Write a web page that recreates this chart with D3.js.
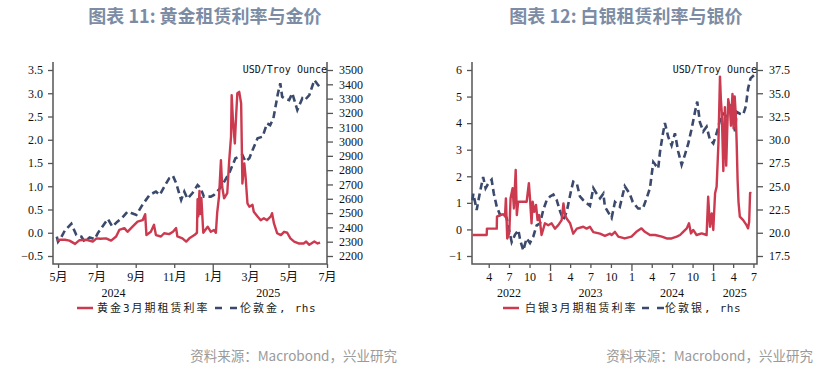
<!DOCTYPE html>
<html><head><meta charset="utf-8">
<script src="https://cdn.jsdelivr.net/npm/d3@7"></script>
<style>body{margin:0;background:#fff}svg{display:block}</style>
</head><body><svg id="c" width="838" height="369"></svg>
<script>
// ---------- Gold (图表 11) ----------
const goldLeaseDates = ["2024-04-29","2024-05-05","2024-05-12","2024-05-19","2024-05-28","2024-06-04","2024-06-15","2024-06-25","2024-07-01","2024-07-07","2024-07-16","2024-07-24","2024-08-01","2024-08-06","2024-08-14","2024-08-19","2024-08-27","2024-09-04","2024-09-12","2024-09-16","2024-09-18","2024-09-25","2024-09-30","2024-10-03","2024-10-11","2024-10-16","2024-10-24","2024-10-30","2024-11-04","2024-11-06","2024-11-14","2024-11-20","2024-11-25","2024-12-03","2024-12-07","2024-12-08","2024-12-09","2024-12-11","2024-12-12","2024-12-14","2024-12-17","2024-12-24","2024-12-29","2025-01-03","2025-01-06","2025-01-08","2025-01-11","2025-01-14","2025-01-16","2025-01-19","2025-01-24","2025-01-27","2025-01-30","2025-01-31","2025-02-02","2025-02-05","2025-02-07","2025-02-09","2025-02-12","2025-02-15","2025-02-17","2025-02-20","2025-02-22","2025-02-25","2025-02-28","2025-03-05","2025-03-07","2025-03-13","2025-03-18","2025-03-23","2025-03-28","2025-04-03","2025-04-05","2025-04-08","2025-04-13","2025-04-19","2025-04-24","2025-04-29","2025-05-04","2025-05-10","2025-05-17","2025-05-25","2025-05-29","2025-06-03","2025-06-11","2025-06-16","2025-06-20"];
const goldLeaseValues = [-0.16,-0.15,-0.15,-0.17,-0.24,-0.16,-0.15,-0.19,-0.12,-0.13,-0.12,-0.17,-0.08,0.06,0.10,0.02,0.13,0.24,0.27,0.40,-0.05,0.02,0.17,-0.05,-0.08,-0.01,-0.03,0.02,0.10,-0.08,-0.12,-0.19,-0.12,-0.05,0.0,0.72,0.35,0.90,0.40,0.75,0.0,0.13,0.02,0.06,0.0,0.42,0.78,1.56,0.99,0.74,0.85,1.53,2.07,2.96,2.42,1.92,2.5,3.0,3.03,2.78,1.06,1.49,1.21,0.63,0.56,0.60,0.45,0.35,0.27,0.31,0.27,0.35,0.42,0.20,-0.01,-0.05,0.02,0.0,-0.12,-0.19,-0.23,-0.23,-0.19,-0.26,-0.19,-0.23,-0.21];
const goldPriceDates = ["2024-04-29","2024-05-01","2024-05-06","2024-05-12","2024-05-22","2024-05-30","2024-06-07","2024-06-12","2024-06-20","2024-06-28","2024-07-03","2024-07-11","2024-07-19","2024-07-26","2024-08-03","2024-08-11","2024-08-19","2024-08-25","2024-09-02","2024-09-12","2024-09-23","2024-10-03","2024-10-09","2024-10-17","2024-10-24","2024-10-30","2024-11-04","2024-11-12","2024-11-17","2024-11-22","2024-11-30","2024-12-08","2024-12-13","2024-12-18","2024-12-29","2025-01-03","2025-01-10","2025-01-16","2025-01-27","2025-02-06","2025-02-17","2025-02-22","2025-02-28","2025-03-06","2025-03-13","2025-03-21","2025-03-28","2025-04-02","2025-04-07","2025-04-14","2025-04-18","2025-04-21","2025-04-25","2025-05-02","2025-05-07","2025-05-15","2025-05-23","2025-05-27","2025-06-03","2025-06-11","2025-06-16","2025-06-21"];
const goldPriceValues = [2335,2300,2330,2380,2425,2347,2335,2300,2330,2318,2360,2410,2459,2405,2440,2470,2510,2500,2487,2560,2627,2650,2627,2690,2743,2760,2710,2592,2650,2600,2640,2696,2673,2615,2615,2627,2660,2696,2778,2883,2906,2860,2883,2950,3023,3034,3127,3115,3160,3330,3407,3313,3300,3290,3337,3220,3302,3290,3325,3430,3400,3372];
const goldMonthTicks = ["2024-05-01","2024-07-01","2024-09-01","2024-11-01","2025-01-01","2025-03-01","2025-05-01","2025-07-01"];
const goldMonthLabels = ["5月","7月","9月","11月","1月","3月","5月","7月"];
const goldYearDates = ["2024-07-28","2025-03-30"];
const goldYearLabels = ["2024","2025"];
const goldLeftTicks = [-0.5,0,0.5,1,1.5,2,2.5,3,3.5];
const goldRightTicks = [2200,2300,2400,2500,2600,2700,2800,2900,3000,3100,3200,3300,3400,3500];

// ---------- Silver (图表 12) ----------
const silverLeaseDates = ["2022-01-18","2022-03-23","2022-03-24","2022-05-07","2022-05-08","2022-05-22","2022-06-05","2022-06-13","2022-06-17","2022-06-23","2022-07-02","2022-07-08","2022-07-17","2022-07-23","2022-07-31","2022-08-05","2022-08-11","2022-09-18","2022-09-28","2022-10-03","2022-10-10","2022-10-15","2022-10-22","2022-10-30","2022-11-06","2022-11-13","2022-11-24","2022-12-09","2022-12-24","2023-01-08","2023-01-23","2023-02-07","2023-02-22","2023-03-02","2023-03-09","2023-03-17","2023-04-01","2023-04-15","2023-05-01","2023-05-30","2023-06-14","2023-06-29","2023-07-14","2023-08-13","2023-09-04","2023-09-27","2023-10-04","2023-10-19","2023-11-03","2023-12-02","2024-01-01","2024-01-23","2024-02-15","2024-03-01","2024-03-24","2024-04-16","2024-05-16","2024-06-07","2024-06-29","2024-07-22","2024-08-06","2024-08-20","2024-09-05","2024-09-15","2024-09-24","2024-10-04","2024-10-19","2024-11-11","2024-12-03","2024-12-10","2024-12-18","2024-12-26","2025-01-02","2025-01-10","2025-01-17","2025-01-25","2025-02-01","2025-02-05","2025-02-09","2025-02-16","2025-02-23","2025-03-01","2025-03-05","2025-03-10","2025-03-18","2025-03-22","2025-03-29","2025-04-03","2025-04-08","2025-04-13","2025-04-17","2025-04-21","2025-04-25","2025-05-01","2025-05-16","2025-05-31","2025-06-07","2025-06-12","2025-06-16","2025-06-22"];
const silverLeaseValues = [-0.21,-0.21,0.03,0.03,0.48,0.54,0.57,0.5,1.17,-0.34,-0.15,1.17,1.55,0.79,2.24,0.54,1.04,1.04,1.74,1.17,0.23,1.04,0.66,0.92,0.35,0.54,-0.21,0.23,0.16,0.23,0.03,0.16,0.35,0.98,0.54,0.40,0.23,-0.16,0.03,0.1,0.03,0.1,-0.1,-0.16,-0.24,-0.16,-0.21,-0.09,-0.27,-0.34,-0.27,-0.09,0.04,-0.09,-0.21,-0.21,-0.27,-0.34,-0.34,-0.27,-0.21,-0.09,0.04,0.23,-0.15,-0.02,-0.21,-0.15,-0.21,1.23,0.1,0.6,-0.02,1.36,1.61,3.24,5.75,4.9,4.4,2.2,4.6,2.4,3.6,4.9,4.5,3.9,5.1,3.8,5.0,4.3,3.2,1.85,1.04,0.48,0.35,0.16,0.04,0.3,1.37,1.36];
const silverPriceDates = ["2022-01-18","2022-01-22","2022-02-06","2022-02-21","2022-03-07","2022-03-18","2022-03-30","2022-04-14","2022-04-24","2022-05-07","2022-05-22","2022-06-05","2022-06-20","2022-07-01","2022-07-13","2022-07-28","2022-08-12","2022-08-20","2022-09-03","2022-09-18","2022-10-03","2022-10-18","2022-11-02","2022-11-17","2022-12-02","2022-12-17","2023-01-01","2023-01-16","2023-01-31","2023-02-15","2023-03-02","2023-03-17","2023-04-05","2023-04-15","2023-05-01","2023-05-15","2023-05-30","2023-06-14","2023-06-29","2023-07-14","2023-07-29","2023-08-13","2023-08-28","2023-09-04","2023-10-04","2023-10-19","2023-11-10","2023-12-02","2023-12-24","2024-01-07","2024-01-31","2024-02-21","2024-03-09","2024-03-24","2024-04-08","2024-04-30","2024-05-08","2024-05-20","2024-05-30","2024-06-14","2024-06-29","2024-07-14","2024-07-29","2024-08-13","2024-08-28","2024-09-12","2024-09-27","2024-10-12","2024-10-22","2024-11-03","2024-11-18","2024-12-03","2024-12-18","2025-01-02","2025-01-17","2025-02-01","2025-02-16","2025-03-03","2025-03-18","2025-04-02","2025-04-09","2025-04-17","2025-05-01","2025-05-16","2025-05-28","2025-06-07","2025-06-18","2025-06-27","2025-07-07"];
const silverPriceValues = [23.5,24.2,22.45,24.4,26.0,24.8,25.3,25.7,24.2,22.8,21.9,22.1,21.6,20.3,19.0,19.8,20.3,19.2,18.1,19.4,18.9,19.6,20.8,21.0,22.5,23.5,23.9,24.1,23.5,22.3,21.4,22.3,24.5,25.5,25.3,23.9,23.5,23.2,22.9,24.8,24.2,23.7,24.2,22.8,21.6,23.3,22.8,25.0,24.2,23.3,22.6,22.6,23.7,24.8,27.6,26.9,28.7,30.5,31.8,30.3,29.4,30.7,28.7,27.3,28.4,29.6,31.2,33.0,34.1,31.9,30.9,31.4,30.0,29.6,30.7,32.1,32.8,32.5,33.7,33.9,30.9,33.0,32.8,32.7,33.6,35.5,36.6,36.8,37.0];
const silverMonthTicks = ["2022-04-01","2022-07-01","2022-10-01","2023-01-01","2023-04-01","2023-07-01","2023-10-01","2024-01-01","2024-04-01","2024-07-01","2024-10-01","2025-01-01","2025-04-01","2025-07-01"];
const silverMonthLabels = ["4","7","10","1","4","7","10","1","4","7","10","1","4","7"];
const silverYearDates = ["2022-07-01","2023-07-01","2024-07-01","2025-04-08"];
const silverYearLabels = ["2022","2023","2024","2025"];
const silverLeftTicks = [-1,0,1,2,3,4,5,6];
const silverRightTicks = [17.5,20,22.5,25,27.5,30,32.5,35,37.5];

const RED = "#CC3A4F", NAVY = "#3B4A6C", AXIS = "#555";
const parse = d3.timeParse("%Y-%m-%d");
const svg = d3.select("#c");
const CJK = "'Noto Sans CJK SC','Noto Sans',sans-serif";
const SERIF = "'Liberation Serif','DejaVu Serif',serif";
const MONO = "'DejaVu Sans Mono','Noto Sans CJK SC',monospace";

function legendText(g, x, y, parts) {
  const t = g.append("text").attr("x", x).attr("y", y).attr("font-family", MONO)
    .attr("font-size", 11).attr("fill", "#222");
  parts.forEach(p => t.append("tspan").attr("letter-spacing", p[1]).text(p[0]));
}

function panel(o) {
  const g = svg.append("g");
  const x = d3.scaleTime().domain([parse(o.d0), parse(o.d1)]).range([o.x0, o.x1]);
  const yL = d3.scaleLinear().domain(o.lDom).range([256, 70]);
  const yR = d3.scaleLinear().domain(o.rDom).range([256, 70]);
  const top = 62, bot = 264;

  g.append("text").attr("x", o.titleX).attr("y", 23).attr("text-anchor", "middle")
    .attr("font-family", CJK).attr("font-size", 18).attr("font-weight", "bold")
    .attr("fill", "#7C8CA5").text(o.title);

  g.append("path").attr("d", `M${o.x0},${top}V${bot}H${o.x1}V${top}`)
    .attr("fill", "none").attr("stroke", AXIS).attr("stroke-width", 1.5);

  const la = g.append("g").attr("transform", `translate(${o.x0},0)`)
    .call(d3.axisLeft(yL).tickValues(o.lTicks).tickFormat(o.lFmt).tickSize(5).tickPadding(5));
  const ra = g.append("g").attr("transform", `translate(${o.x1},0)`)
    .call(d3.axisRight(yR).tickValues(o.rTicks).tickFormat(o.rFmt).tickSize(6).tickPadding(6));
  const ba = g.append("g").attr("transform", `translate(0,${bot})`)
    .call(d3.axisBottom(x).tickValues(o.mTicks.map(parse)).tickFormat((d, i) => o.mLabels[i]).tickSize(4).tickPadding(4));
  ba.selectAll(".tick line").attr("y2", d => d.getMonth() === 0 ? 7 : 4);
  [la, ra, ba].forEach(a => {
    a.select(".domain").remove();
    a.selectAll(".tick line").attr("stroke", AXIS).attr("stroke-width", 1.3);
    a.selectAll("text").attr("font-family", SERIF).attr("font-size", 12).attr("fill", "#111");
  });
  ba.selectAll("text").attr("font-family", SERIF + "," + CJK);

  g.selectAll(".yr").data(o.yDates).enter().append("text")
    .attr("x", d => x(parse(d))).attr("y", 297).attr("text-anchor", "middle")
    .attr("font-family", SERIF).attr("font-size", 12).attr("fill", "#111")
    .text((d, i) => o.yLabels[i]);

  g.append("text").attr("x", o.x1).attr("y", 73).attr("text-anchor", "end")
    .attr("font-family", MONO).attr("font-size", 10).attr("fill", "#111").text("USD/Troy Ounce");

  const priceLine = d3.line().x(d => x(d[0])).y(d => yR(d[1]));
  const leaseLine = d3.line().x(d => x(d[0])).y(d => yL(d[1]));
  g.append("path").datum(o.pDates.map((d, i) => [parse(d), o.pVals[i]]))
    .attr("d", priceLine).attr("fill", "none").attr("stroke", NAVY)
    .attr("stroke-width", 2.6).attr("stroke-dasharray", "7,4");
  g.append("path").datum(o.lDates.map((d, i) => [parse(d), o.lVals[i]]))
    .attr("d", leaseLine).attr("fill", "none").attr("stroke", RED)
    .attr("stroke-width", 2.4).attr("stroke-linejoin", "round");

  const ly = 308;
  g.append("line").attr("x1", o.lg[0]).attr("x2", o.lg[0] + 16).attr("y1", ly).attr("y2", ly)
    .attr("stroke", RED).attr("stroke-width", 2.5);
  legendText(g, o.lg[1], ly + 4, o.leg1);
  g.append("line").attr("x1", o.lg[2]).attr("x2", o.lg[2] + 22).attr("y1", ly).attr("y2", ly)
    .attr("stroke", NAVY).attr("stroke-width", 2.5).attr("stroke-dasharray", "7,8");
  legendText(g, o.lg[3], ly + 4, o.leg2);

  g.append("text").attr("x", o.srcX).attr("y", 361).attr("text-anchor", "end")
    .attr("font-family", CJK).attr("font-size", 13.5).attr("fill", "#9a9a9a")
    .text("资料来源：Macrobond，兴业研究");
}

panel({
  title: "图表 11: 黄金租赁利率与金价", titleX: 205,
  d0: "2024-04-23", d1: "2025-07-01", x0: 53, x1: 327,
  lDom: [-0.5, 3.5], rDom: [2200, 3500],
  lTicks: goldLeftTicks, rTicks: goldRightTicks,
  lFmt: d3.format(".1f"), rFmt: d3.format("d"),
  mTicks: goldMonthTicks, mLabels: goldMonthLabels,
  yDates: goldYearDates, yLabels: goldYearLabels,
  pDates: goldPriceDates, pVals: goldPriceValues,
  lDates: goldLeaseDates, lVals: goldLeaseValues,
  lg: [77, 97, 215, 240],
  leg1: [["黄金3月期租赁利率", 2]], leg2: [["伦敦金,", 2], [" rhs", 0.5]], srcX: 397
});
panel({
  title: "图表 12: 白银租赁利率与银价", titleX: 626,
  d0: "2022-01-16", d1: "2025-07-17", x0: 472, x1: 757,
  lDom: [-1, 6], rDom: [17.5, 37.5],
  lTicks: silverLeftTicks, rTicks: silverRightTicks,
  lFmt: d3.format("d"), rFmt: d3.format(".1f"),
  mTicks: silverMonthTicks, mLabels: silverMonthLabels,
  yDates: silverYearDates, yLabels: silverYearLabels,
  pDates: silverPriceDates, pVals: silverPriceValues,
  lDates: silverLeaseDates, lVals: silverLeaseValues,
  lg: [503, 525, 642, 665],
  leg1: [["白银3月期租赁利率", 2]], leg2: [["伦敦银,", 2], [" rhs", 0.5]], srcX: 813
});
</script></body></html>
